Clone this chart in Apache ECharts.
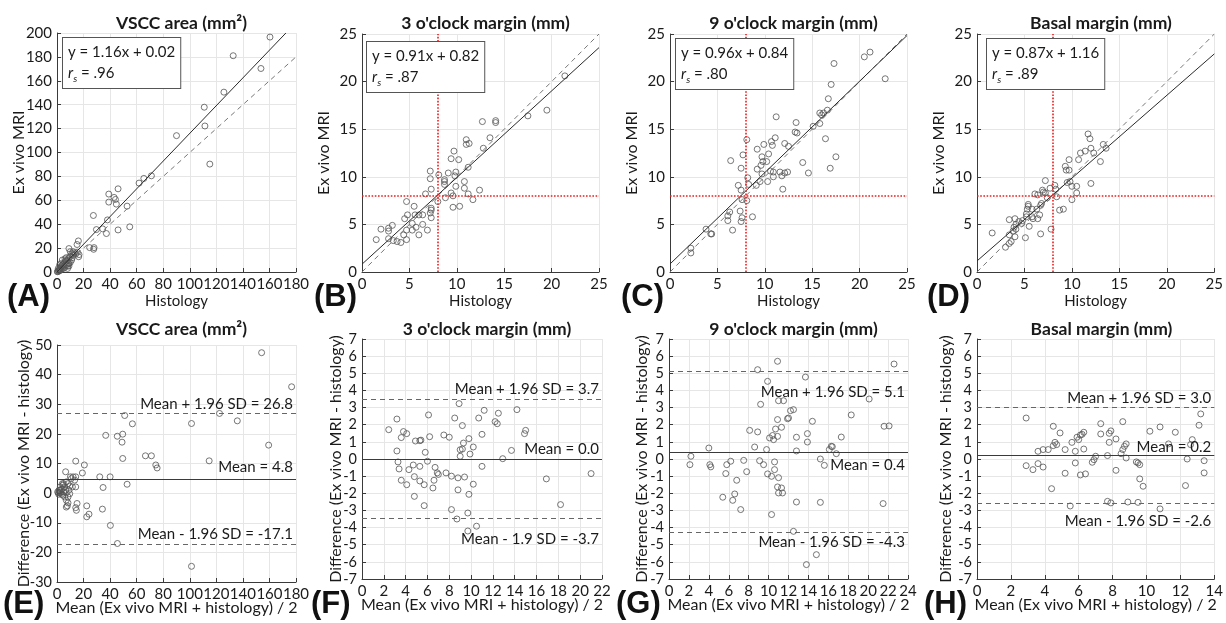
<!DOCTYPE html>
<html><head><meta charset="utf-8">
<script src="https://cdn.jsdelivr.net/npm/echarts@6/dist/echarts.min.js"></script>
<style>html,body{margin:0;padding:0;background:#fff}#c{width:1226px;height:623px}</style>
</head><body><div id="c"></div>
<script>
// ---------- DATA ----------
const panelTitles = ['VSCC area (mm²)', "3 o'clock margin (mm)", "9 o'clock margin (mm)", 'Basal margin (mm)'];
const panelLetters = ['(A)','(B)','(C)','(D)','(E)','(F)','(G)','(H)'];
const fitEquations = ['y = 1.16x + 0.02','y = 0.91x + 0.82','y = 0.96x + 0.84','y = 0.87x + 1.16'];
const fitRs = ['.96','.87','.80','.89'];
const fitSlopes = [1.16, 0.91, 0.96, 0.87];
const fitIntercepts = [0.02, 0.82, 0.84, 1.16];
const fitXEnd = [172.4, 25, 25, 25];
const identityEnd = [180, 25, 25, 25];
const cutoff = 8;

// [histology, ex vivo MRI]
const vsccPairs = [[160.4,196.6],[132.7,181],[153.6,170.3],[125.7,150.5],[110.9,137.9],[111.4,122.2],[115.1,90.3],[90,114.1],[71.1,80.5],[65.4,78.3],[61.8,74.4],[46,69.6],[39,65.2],[43,62.4],[44,60.7],[39,58.5],[44.7,56.8],[52.8,55.1],[27.4,47.3],[38,43.6],[34.4,36.1],[29.7,35.5],[46,35.2],[54.8,37.8],[37.2,32.2],[24.6,20.4],[27.9,20.4],[27.6,19],[16.1,26],[15.1,23],[16.3,12.8],[9,19.6],[16.6,14.6],[15.3,16.5],[0.5,0.5],[1,1.5],[1.5,1],[2,2.5],[2.5,3],[3,2],[3,4],[3.5,5],[4,3],[4,6],[5,5],[5,7],[6,4],[6,8],[7,6],[7,9],[8,5],[8,10],[9,7],[9,12],[10,8],[10,13],[11,10],[11,15],[12,14],[13,16],[14,15],[4,10],[6,11],[10,17],[12,17],[2,6],[8,3],[9,5],[1,3],[3,7],[5,3],[7,12],[0.3,0.2],[1.2,0.6],[2.2,1.2],[6.5,9.5],[8.5,7.5],[11.5,12]];
const clock3Pairs = [[21.4,20.6],[19.5,17.0],[17.5,16.4],[14.1,15.9],[14.1,15.7],[12.7,15.8],[13.5,14.1],[12.8,13.0],[11.0,13.9],[11.0,13.4],[11.3,13.5],[9.7,12.7],[9.4,11.9],[10.2,11.8],[11.2,11.0],[10.8,9.5],[10.8,8.8],[11.2,8.2],[11.7,7.6],[12.4,8.6],[9.9,10.5],[9.8,10.1],[9.9,9.0],[9.6,8.0],[9.4,8.3],[9.6,6.8],[10.3,6.9],[8.7,9.5],[8.7,9.2],[8.7,9.7],[9.1,10.4],[8.8,7.8],[8.1,10.2],[8.0,7.4],[7.2,10.6],[7.2,9.8],[7.3,8.7],[6.7,8.2],[7.3,6.7],[7.3,6.5],[7.2,6.2],[7.3,5.7],[6.4,6.0],[6.9,4.4],[6.4,5.0],[5.5,6.9],[5.6,6.0],[6.0,6.0],[4.7,7.4],[4.8,6.0],[4.5,5.6],[5.3,5.1],[5.3,4.4],[5.7,4.7],[6.0,3.9],[4.7,4.4],[4.4,3.9],[4.7,3.4],[3.2,4.9],[2.8,4.6],[2.8,4.3],[2.0,4.5],[1.5,3.4],[2.8,3.5],[3.3,3.3],[3.7,3.2],[4.1,3.1]];
const clock9Pairs = [[22.7,20.3],[20.5,22.6],[21.1,23.1],[17.3,21.9],[17.0,19.7],[16.7,18.2],[16.6,17.0],[16.2,16.7],[16.0,16.5],[15.8,16.7],[15.8,15.6],[15.1,15.3],[16.4,14.0],[17.5,12.1],[16.9,10.9],[14.0,11.5],[14.6,10.4],[13.3,15.7],[13.2,14.7],[13.4,14.6],[12.5,13.2],[12.1,13.5],[11.2,16.3],[11.1,14.1],[10.7,13.7],[10.8,13.3],[9.9,13.4],[9.2,12.9],[9.7,12.1],[10.4,12.4],[9.8,11.6],[10.2,11.6],[9.6,11.2],[9.2,10.8],[10.6,10.6],[10.9,10.5],[10.9,10.0],[9.7,10.3],[9.5,9.5],[10.3,9.5],[9.1,9.1],[8.3,9.2],[8.2,9.9],[8.1,13.9],[7.7,12.3],[7.5,10.9],[6.4,11.7],[7.2,9.1],[11.6,10.5],[11.8,10.1],[12.1,10.4],[12.4,10.5],[11.9,8.7],[8.1,7.5],[7.5,8.6],[7.6,7.6],[7.4,6.4],[7.6,5.7],[7.5,5.3],[8.7,5.8],[6.3,6.3],[6.1,5.9],[6.1,5.4],[6.6,4.4],[3.8,4.5],[4.3,4.0],[4.4,4.0],[2.2,2.5],[2.2,2.0]];
const basalPairs = [[1.6,4.1],[3.0,2.6],[3.4,3.0],[3.4,5.5],[3.6,3.2],[3.4,3.9],[3.8,4.3],[4.0,3.7],[4.1,4.5],[3.9,4.7],[4.1,5.0],[4.4,5.3],[4.0,5.6],[4.7,5.1],[5.1,3.6],[4.8,5.4],[5.2,5.8],[5.2,6.1],[5.3,6.6],[5.4,6.9],[5.4,7.1],[5.5,4.8],[5.8,5.8],[5.8,6.6],[5.9,5.6],[6.1,8.2],[6.4,8.1],[6.3,6.6],[6.4,5.6],[6.6,6.0],[6.7,4.0],[6.7,7.0],[6.8,7.2],[6.9,8.6],[7.0,8.4],[7.2,9.6],[7.2,8.3],[7.4,7.8],[7.7,8.8],[7.8,4.5],[8.2,9.1],[8.3,8.7],[8.4,7.9],[8.7,6.5],[9.1,6.6],[9.3,11.1],[9.4,10.7],[9.5,9.4],[9.7,11.8],[9.7,10.7],[9.8,9.5],[10.0,9.0],[10.0,7.6],[10.5,9.0],[10.5,8.3],[10.7,11.8],[10.9,12.5],[11.4,12.7],[11.7,14.5],[11.9,14.0],[12.0,13.0],[12.0,9.3],[12.3,12.5],[13.0,11.6],[13.3,13.4],[13.6,13.0]];

// [mean of methods, difference]
const vsccBA = [[154.1,47.4],[176.7,35.9],[122.4,26.9],[101.3,23.5],[135.8,24.4],[51,26.2],[56.8,23.4],[36.7,19.5],[45.4,19.2],[49.5,19.9],[49,17.2],[49.5,11.7],[66.6,12.6],[71.1,12.6],[74.4,9.5],[75.4,8.5],[114.6,10.9],[159.4,16.2],[52.8,3],[32.2,5.5],[40,5.5],[34.7,1.9],[34.2,-5.4],[40.2,-10.9],[45.5,-17],[101.3,-24.7],[22.4,-4.3],[22.4,-8],[24.1,-7.1],[14.1,10.8],[20.6,9.5],[19.1,6.8],[14.1,2.1],[15.1,-3.5],[14.6,-5.8],[14.1,-4.9],[6.5,7.2],[1.5,1.0],[2.0,0.1],[2.8,0.4],[3.3,1.2],[4.0,1.5],[4.5,2.7],[5.0,3.2],[5.8,2.1],[7.0,3.8],[8.3,3.2],[9.0,1.0],[9.6,-0.2],[5.8,-1.3],[7.0,-2.4],[7.8,-4.3],[8.3,-3.3],[10.1,5.5],[10.8,4.9],[12.1,5.5],[13.3,4.4],[11.6,2.1],[9.6,2.4],[6.5,1.0],[4.5,-0.7],[7.0,0.1],[8.3,-1.3],[1.0,0.1],[0.5,0.4],[1.3,-0.4],[2.0,1.0],[3.5,-0.4],[5.0,0.4],[2.5,2.1],[4.0,3.2],[7.0,-4.7],[14.1,5.5]];
const clock3BA = [[2.45,1.71],[3.2,0.47],[3.2,2.33],[3.3,-0.17],[3.4,-0.58],[3.6,1.25],[3.8,1.6],[4.1,1.48],[3.6,-1.24],[4.1,-1.5],[4.3,-0.62],[4.7,-0.35],[4.8,-1.03],[4.9,1.05],[5.3,1.07],[5.4,1.1],[4.8,-2.18],[5.3,-1.28],[5.3,-0.43],[5.7,-2.72],[5.7,-1.5],[5.8,0.39],[6.0,-0.13],[6.1,2.57],[6.2,1.3],[6.7,-0.49],[6.9,-0.81],[7.0,-0.9],[6.6,-1.24],[6.5,-1.69],[7.5,1.4],[7.7,-0.81],[8.0,1.27],[8.2,-1.0],[8.2,-2.95],[8.5,2.39],[8.7,-3.5],[8.8,-1.1],[8.8,-1.8],[8.9,3.23],[9.0,0.54],[9.0,0.16],[9.2,1.95],[9.2,0.58],[9.3,0.93],[9.4,-1.05],[9.7,-3.15],[9.7,-4.2],[9.8,-2.06],[9.8,1.19],[9.9,0.29],[10.2,-1.47],[10.2,0.7],[10.5,-3.92],[10.7,2.39],[11.0,1.44],[11.0,-0.43],[11.2,2.84],[12.2,2.18],[12.4,2.06],[12.5,2.67],[12.9,0.02],[13.7,0.5],[14.2,2.88],[14.9,1.48],[15.0,1.67],[16.9,-1.16],[18.2,-2.66],[21.0,-0.85]];
const clock9BA = [[2.1,-0.33],[2.2,0.16],[4.0,0.64],[4.1,-0.33],[4.2,-0.46],[5.4,-2.23],[5.7,-0.85],[5.8,-0.33],[6.2,-0.13],[6.4,-2.41],[6.6,-2.04],[6.8,-1.24],[7.2,-2.95],[7.5,-0.08],[7.8,-0.74],[8.1,1.67],[8.6,0.7],[8.9,1.58],[8.9,5.21],[9.1,-0.1],[9.2,3.19],[9.5,-0.33],[9.8,0.55],[9.9,4.53],[9.9,-0.87],[10.1,1.23],[10.3,-1.01],[10.3,-3.24],[10.4,1.37],[10.5,1.13],[10.6,-0.17],[10.6,-0.62],[10.7,1.75],[10.9,2.3],[10.9,1.32],[10.9,5.7],[11.0,3.4],[11.0,-1.09],[10.9,-1.63],[11.0,-1.98],[11.3,1.85],[11.3,-1.69],[11.4,-1.98],[11.5,3.4],[11.9,2.35],[12.0,2.39],[12.2,2.82],[12.5,2.88],[12.5,-4.22],[12.8,1.27],[12.8,0.47],[12.8,-2.51],[13.7,4.78],[13.9,1.48],[13.9,0.99],[13.8,-6.16],[14.4,2.2],[14.8,-5.58],[15.2,-2.53],[15.2,0.0],[15.6,-0.37],[16.1,0.55],[16.3,0.74],[16.4,0.72],[16.8,0.31],[17.3,1.28],[18.3,2.57],[20.1,3.5],[21.5,-2.6],[21.6,1.91],[22.1,1.93],[22.6,5.54]];
const basalBA = [[2.9,-0.39],[2.9,2.39],[3.3,-0.62],[3.6,0.45],[3.6,-0.27],[3.9,0.55],[3.9,-0.47],[4.2,0.55],[4.4,-1.73],[4.5,0.78],[4.5,1.91],[4.6,0.97],[4.7,0.84],[4.9,1.52],[5.2,0.55],[5.2,-0.83],[5.5,-2.74],[5.6,0.97],[5.8,0.45],[5.8,-0.23],[5.9,1.27],[6.0,1.13],[6.1,1.4],[6.2,1.44],[6.1,-0.93],[6.3,1.56],[6.3,0.58],[6.4,-0.87],[6.8,-0.19],[6.9,-0.04],[7.0,0.16],[7.3,2.06],[7.3,1.46],[7.7,0.2],[7.7,-2.47],[7.8,1.5],[7.9,1.64],[7.8,0.97],[7.9,-2.56],[8.2,1.17],[8.2,-0.66],[8.5,0.31],[8.6,2.18],[8.6,0.55],[8.7,0.74],[8.8,0.06],[8.8,0.88],[8.9,-2.51],[9.4,-0.17],[9.5,-0.23],[9.5,-2.53],[9.6,-1.16],[9.6,-0.33],[9.8,-1.59],[10.2,1.62],[10.8,1.87],[10.8,-2.91],[11.3,0.88],[11.7,1.56],[12.3,-1.55],[12.4,0.0],[12.7,1.13],[12.6,0.84],[13.1,1.97],[13.2,2.63],[13.4,-0.81],[13.4,-0.1]];

// Bland-Altman reference lines: [upper, mean, lower] as drawn, and their printed labels
const baLines = [[26.8,4.8,-17.1],[3.5,0.0,-3.45],[5.1,0.4,-4.3],[3.0,0.2,-2.6]];
const baLabels = [
  ['Mean + 1.96 SD = 26.8','Mean = 4.8','Mean - 1.96 SD = -17.1'],
  ['Mean + 1.96 SD = 3.7','Mean = 0.0','Mean - 1.9 SD = -3.7'],
  ['Mean + 1.96 SD = 5.1','Mean = 0.4','Mean - 1.96 SD = -4.3'],
  ['Mean + 1.96 SD = 3.0','Mean = 0.2','Mean - 1.96 SD = -2.6']
];
// axis ranges
const topX = [[0,180,20],[0,25,5],[0,25,5],[0,25,5]];
const topY = [[0,200,20],[0,25,5],[0,25,5],[0,25,5]];
const botX = [[0,180,20],[0,22,2],[0,24,2],[0,14,2]];
const botY = [[-30,50,10],[-7,7,1],[-7,7,1],[-7,7,1]];

const topPairs = [vsccPairs, clock3Pairs, clock9Pairs, basalPairs];
const botPairs = [vsccBA, clock3BA, clock9BA, basalBA];

// ---------- LAYOUT ----------
const FONT = 'Lato, "Open Sans", sans-serif';
const TXT = '#1a1a1a';
const topGrids = [
  {left:57, top:33, width:239, height:239},
  {left:362, top:34, width:237, height:238},
  {left:670, top:34, width:237, height:238},
  {left:977, top:34, width:238, height:238}
];
const botGrids = [
  {left:57, top:345, width:239, height:237},
  {left:362, top:339, width:240, height:240},
  {left:669, top:339, width:239, height:240},
  {left:977, top:339, width:239, height:240}
];
const topYGap = [30, 30, 30, 30];
const botYGap = [25, 18, 19, 23];
const letterPos = [[7,282],[314,282],[621,282],[927,282],[3,589],[311,589],[616,589],[924,589]];
const boxPos = [[62,37],[366,41],[675,38],[986,38]];
// label placements for BA lines: [positionSuffix, distance]
const baPlace = [
  [['Top',2],['Top',4],['Top',2]],
  [['Top',2],['Top',2],['Bottom',14]],
  [['Bottom',13],['Bottom',6],['Bottom',2]],
  [['Top',2],['Top',1],['Bottom',10]]
];

function axis(r, gi, name, gap, nameSize, labelSize){
  return {
    type:'value', gridIndex:gi, min:r[0], max:r[1], interval:r[2],
    name:name, nameLocation:'middle', nameGap:gap, nameMoveOverlap:false,
    nameTextStyle:{fontSize:nameSize, color:TXT, fontFamily:FONT},
    axisLine:{show:true, onZero:false, lineStyle:{color:'#3a3a3a', width:1}},
    axisTick:{show:true, inside:true, length:4, lineStyle:{color:'#3a3a3a'}},
    axisLabel:{fontSize:labelSize, color:TXT, fontFamily:FONT, margin:5},
    splitLine:{show:true, lineStyle:{color:'#e6e6e6', width:1}}
  };
}

const grids = [], xAxes = [], yAxes = [], series = [], titles = [], graphics = [];
const scatterStyle = {color:'rgba(0,0,0,0)', borderColor:'#555', borderWidth:1};

for (let i=0;i<4;i++){
  const gi = i;
  grids.push(topGrids[i]);
  xAxes.push(axis(topX[i], gi, 'Histology', 22, 15, 15));
  yAxes.push(axis(topY[i], gi, 'Ex vivo MRI', topYGap[i], 16, 15));
  titles.push({text:panelTitles[i], left:topGrids[i].left+topGrids[i].width/2, top:9, textAlign:'center',
    textStyle:{fontSize:17.5, fontWeight:'bold', color:TXT, fontFamily:FONT}});
  const sc = {type:'scatter', xAxisIndex:gi, yAxisIndex:gi, data:topPairs[i], symbol:'circle', symbolSize:6,
    itemStyle:scatterStyle, silent:true, z:3};
  if (i>0){
    sc.markLine = {silent:true, symbol:['none','none'], label:{show:false},
      lineStyle:{color:'#ee1c1c', type:'dotted', width:1.6},
      data:[{xAxis:cutoff},{yAxis:cutoff}]};
  }
  series.push(sc);
  series.push({type:'line', xAxisIndex:gi, yAxisIndex:gi, symbol:'none', silent:true, z:4,
    lineStyle:{color:'#777', width:1, type:[5,4]},
    data:[[0,0],[identityEnd[i],identityEnd[i]]]});
  series.push({type:'line', xAxisIndex:gi, yAxisIndex:gi, symbol:'none', silent:true, z:4,
    lineStyle:{color:'#2a2a2a', width:1},
    data:[[0,fitIntercepts[i]],[fitXEnd[i], fitSlopes[i]*fitXEnd[i]+fitIntercepts[i]]]});
  graphics.push({type:'text', left:boxPos[i][0], top:boxPos[i][1], z:100,
    style:{text:'{t|'+fitEquations[i]+'}\n{r|r}{s|s}{t| = '+fitRs[i]+'}',
      rich:{t:{fontSize:15, fontFamily:FONT, fill:TXT, lineHeight:21},
            r:{fontSize:15, fontFamily:FONT, fontStyle:'italic', fill:TXT, lineHeight:21},
            s:{fontSize:10, fontFamily:FONT, fontStyle:'italic', fill:TXT, lineHeight:21, verticalAlign:'bottom', padding:[8,0,0,0]}},
      backgroundColor:'#fff', borderColor:'#555', borderWidth:1, padding:[4,5,4,5]}});
}
for (let i=0;i<4;i++){
  const gi = i+4;
  grids.push(botGrids[i]);
  xAxes.push(axis(botX[i], gi, 'Mean (Ex vivo MRI + histology) / 2', 18, 16, 15));
  yAxes.push(axis(botY[i], gi, 'Difference (Ex vivo MRI - histology)', botYGap[i], 16, 14.5));
  titles.push({text:panelTitles[i], left:botGrids[i].left+botGrids[i].width/2, top:315, textAlign:'center',
    textStyle:{fontSize:17.5, fontWeight:'bold', color:TXT, fontFamily:FONT}});
  const ml = baLines[i].map((v,k)=>({
    yAxis:v,
    lineStyle:{color: k===1?'#3a3a3a':'#666', type: k===1?'solid':[5,4], width:1.2},
    label:{show:true, formatter:baLabels[i][k], position:'insideEnd'+baPlace[i][k][0],
      distance:[3, baPlace[i][k][1]], fontSize:15, color:TXT, fontFamily:FONT}
  }));
  series.push({type:'scatter', xAxisIndex:gi, yAxisIndex:gi, data:botPairs[i], symbol:'circle', symbolSize:6,
    itemStyle:scatterStyle, silent:true, z:3,
    markLine:{silent:true, symbol:['none','none'], data:ml}});
}
panelLetters.forEach((t,k)=>{
  graphics.push({type:'text', left:letterPos[k][0], top:letterPos[k][1], z:100,
    style:{text:t, fontSize:31, fontWeight:'bold', fontFamily:'"Liberation Sans", Arial, sans-serif', fill:'#111'}});
});

const chart = echarts.init(document.getElementById('c'), null, {renderer:'canvas'});
chart.setOption({
  animation:false, backgroundColor:'#fff',
  title:titles, grid:grids, xAxis:xAxes, yAxis:yAxes, series:series, graphic:graphics
});
</script></body></html>
